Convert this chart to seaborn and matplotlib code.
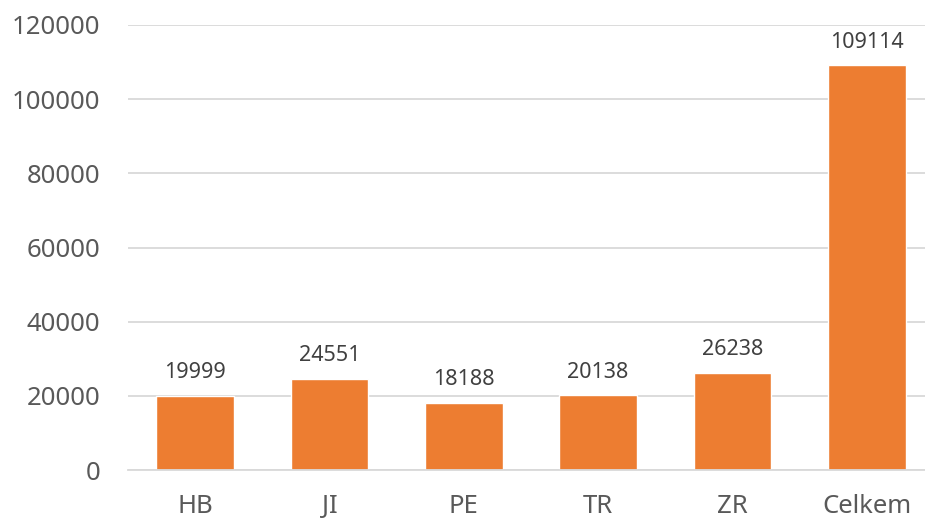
import matplotlib
matplotlib.use("Agg")
import matplotlib.pyplot as plt
import seaborn as sns
import pandas as pd

categories = ["HB", "JI", "PE", "TR", "ZR", "Celkem"]
values = [19999, 24551, 18188, 20138, 26238, 109114]
yticks = [0, 20000, 40000, 60000, 80000, 100000, 120000]

sns.set_style("white")
plt.rcParams['font.family'] = ['Noto Sans', 'DejaVu Sans']

df = pd.DataFrame({"cat": categories, "val": values})

fig = plt.figure(figsize=(9.25, 5.2), dpi=100)
ax = fig.add_axes([128/925, 50/520, 806/925, 445/520])
sns.barplot(data=df, x="cat", y="val", color="#ED7D31", saturation=1, width=0.58, ax=ax)

ax.set_ylim(0, 120000)
ax.set_yticks(yticks)
ax.set_yticklabels([str(t) for t in yticks])
ax.set_xlim(-0.5, len(categories) - 0.5)
ax.yaxis.grid(True, color="#D9D9D9", linewidth=1.3)
ax.set_axisbelow(True)
for s in ["top", "right", "left"]:
    ax.spines[s].set_visible(False)
ax.spines["bottom"].set_color("#D9D9D9")
ax.spines["bottom"].set_linewidth(1.3)
ax.tick_params(axis="both", length=0, labelsize=18.5, labelcolor="#595959")
ax.tick_params(axis="y", pad=20)
ax.tick_params(axis="x", pad=17)
ax.set_xlabel("")
ax.set_ylabel("")

for i, v in enumerate(values):
    ax.annotate(str(v), (i, v), xytext=(0, 9), textcoords="offset points",
                ha="center", va="bottom", fontsize=15.5, color="#404040")

fig.savefig("out.png", dpi=100)
